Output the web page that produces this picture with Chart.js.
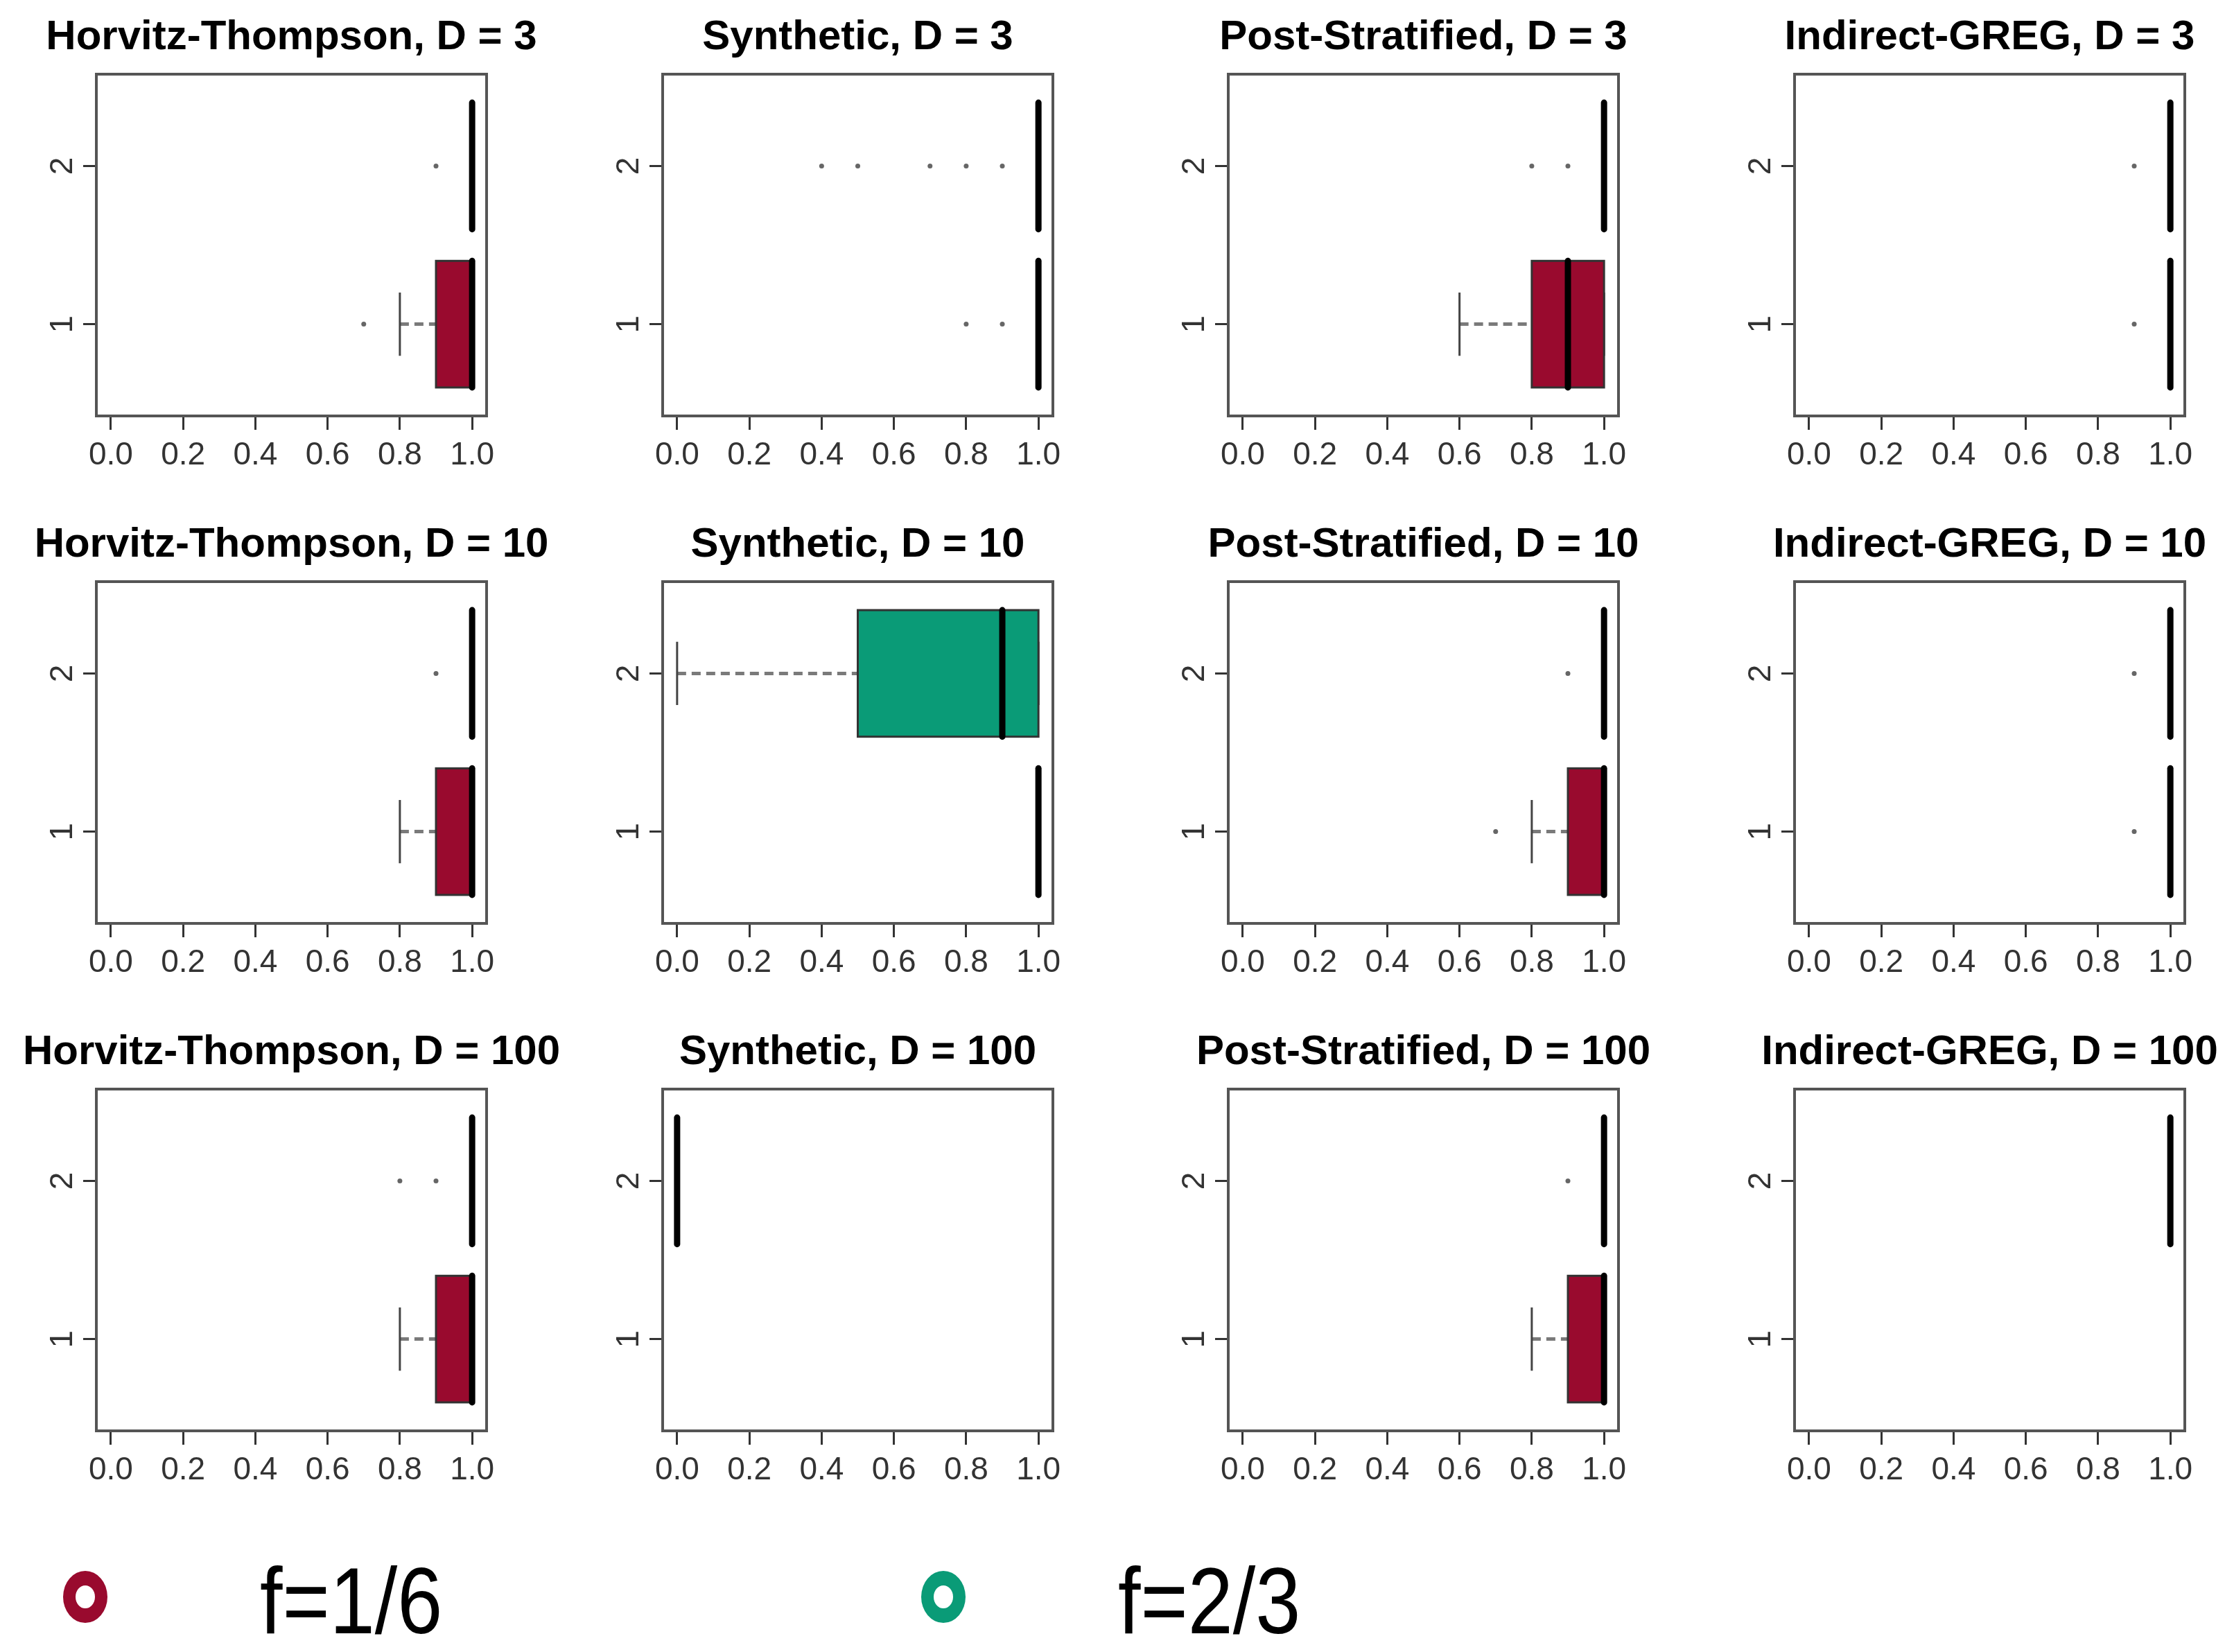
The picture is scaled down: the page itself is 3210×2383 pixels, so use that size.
<!DOCTYPE html>
<html>
<head>
<meta charset="utf-8">
<script src="https://cdn.jsdelivr.net/npm/chart.js@4.4.1/dist/chart.umd.min.js"></script>
<style>
  html, body { margin: 0; padding: 0; background: #fff; overflow: hidden; }
  #page { position: relative; width: 3210px; height: 2383px; overflow: hidden; background: #fff; }
  #page canvas { position: absolute; }
  .key { position: absolute; border-style: solid; border-radius: 50%; box-sizing: border-box; }
  .keytext { position: absolute; font-family: "Liberation Sans", Arial, sans-serif; font-size: 136px; line-height: 136px;
             transform: scaleX(0.86); transform-origin: left top; white-space: nowrap; color: #000; }
</style>
</head>
<body>
<div id="page"></div>
<script>
var estimators = ['Horvitz-Thompson', 'Synthetic', 'Post-Stratified', 'Indirect-GREG']
var domainSizes = [3, 10, 100]
var groups = [1, 2]
var groupColors = ['#990a2e', '#0a9b77']
var legendLabels = ['f=1/6', 'f=2/3']
var xTicks = [0, 0.2, 0.4, 0.6, 0.8, 1.0]
var xTickLabels = ['0.0', '0.2', '0.4', '0.6', '0.8', '1.0']

// [lower whisker, Q1, median, Q3, upper whisker] for group 1 and group 2 (null = nothing drawn)
var boxesD3 = [
  [[0.8, 0.9, 1.0, 1.0, 1.0], [1, 1, 1, 1, 1]],
  [[1, 1, 1, 1, 1], [1, 1, 1, 1, 1]],
  [[0.6, 0.8, 0.9, 1.0, 1.0], [1, 1, 1, 1, 1]],
  [[1, 1, 1, 1, 1], [1, 1, 1, 1, 1]]
]
var boxesD10 = [
  [[0.8, 0.9, 1.0, 1.0, 1.0], [1, 1, 1, 1, 1]],
  [[1, 1, 1, 1, 1], [0.0, 0.5, 0.9, 1.0, 1.0]],
  [[0.8, 0.9, 1.0, 1.0, 1.0], [1, 1, 1, 1, 1]],
  [[1, 1, 1, 1, 1], [1, 1, 1, 1, 1]]
]
var boxesD100 = [
  [[0.8, 0.9, 1.0, 1.0, 1.0], [1, 1, 1, 1, 1]],
  [null, [0, 0, 0, 0, 0]],
  [[0.8, 0.9, 1.0, 1.0, 1.0], [1, 1, 1, 1, 1]],
  [null, [1, 1, 1, 1, 1]]
]

// outliers for group 1 and group 2
var outD3 = [
  [[0.7], [0.9]],
  [[0.8, 0.9], [0.4, 0.5, 0.7, 0.8, 0.9]],
  [[], [0.8, 0.9]],
  [[0.9], [0.9]]
]
var outD10 = [
  [[], [0.9]],
  [[], []],
  [[0.7], [0.9]],
  [[0.9], [0.9]]
]
var outD100 = [
  [[], [0.8, 0.9]],
  [[], []],
  [[], [0.9]],
  [[], []]
]

var allBoxes = [boxesD3, boxesD10, boxesD100]
var allOut = [outD3, outD10, outD100]

var fontFamily = "'Liberation Sans', Arial, sans-serif"
Chart.defaults.font.family = fontFamily

// box, whiskers, staples and median for each group
var boxPlugin = {
  id: 'boxes',
  beforeDatasetsDraw: function (chart) {
    var stats = chart.options.plugins.boxes.stats
    var xs = chart.scales.x, ys = chart.scales.y, ctx = chart.ctx
    stats.forEach(function (s, i) {
      if (!s) return
      var yc = ys.getPixelForValue(groups[i])
      var h = Math.abs(ys.getPixelForValue(groups[i] + 0.4) - yc)
      var px = s.map(function (v) { return xs.getPixelForValue(v) })
      ctx.save()
      ctx.strokeStyle = '#7a7a7a'
      ctx.lineWidth = 5
      ctx.setLineDash([13, 8])
      ctx.beginPath()
      ctx.moveTo(px[0], yc); ctx.lineTo(px[1], yc)
      ctx.moveTo(px[3], yc); ctx.lineTo(px[4], yc)
      ctx.stroke()
      ctx.setLineDash([])
      ctx.strokeStyle = '#444'
      ctx.lineWidth = 3
      ctx.beginPath()
      ctx.moveTo(px[0], yc - h / 2); ctx.lineTo(px[0], yc + h / 2)
      ctx.moveTo(px[4], yc - h / 2); ctx.lineTo(px[4], yc + h / 2)
      ctx.stroke()
      ctx.fillStyle = groupColors[i]
      ctx.fillRect(px[1], yc - h, px[3] - px[1], 2 * h)
      ctx.strokeStyle = '#333'
      ctx.strokeRect(px[1], yc - h, px[3] - px[1], 2 * h)
      ctx.strokeStyle = '#000'
      ctx.lineWidth = 9
      ctx.lineCap = 'round'
      ctx.beginPath()
      ctx.moveTo(px[2], yc - h); ctx.lineTo(px[2], yc + h)
      ctx.stroke()
      ctx.restore()
    })
  }
}

// frame round the plot region and the panel title above it
var framePlugin = {
  id: 'frame',
  afterDraw: function (chart) {
    var a = chart.chartArea, ctx = chart.ctx
    ctx.save()
    ctx.strokeStyle = '#555'
    ctx.lineWidth = 4
    ctx.strokeRect(a.left, a.top, a.right - a.left, a.bottom - a.top)
    ctx.font = 'bold 60px ' + fontFamily
    ctx.fillStyle = '#000'
    ctx.textAlign = 'center'
    ctx.textBaseline = 'middle'
    ctx.fillText(chart.options.plugins.frame.title, (a.left + a.right) / 2, a.top - 53)
    ctx.restore()
  }
}

var page = document.getElementById('page')

allBoxes.forEach(function (rowBoxes, r) {
  rowBoxes.forEach(function (stats, c) {
    var canvas = document.createElement('canvas')
    canvas.width = 840
    canvas.height = 732
    canvas.style.left = Math.round(816.7 * c) + 'px'
    canvas.style.top = (732 * r) + 'px'
    page.appendChild(canvas)

    var points = []
    allOut[r][c].forEach(function (vals, g) {
      vals.forEach(function (v) { points.push({ x: v, y: groups[g] }) })
    })

    new Chart(canvas, {
      type: 'scatter',
      data: {
        datasets: [{
          data: points,
          pointRadius: 3.5,
          pointBackgroundColor: '#666',
          pointBorderWidth: 0
        }]
      },
      options: {
        responsive: false,
        animation: false,
        devicePixelRatio: 1,
        layout: { padding: { left: 0, right: 138, top: 107, bottom: 0 } },
        plugins: {
          legend: { display: false },
          tooltip: { enabled: false },
          title: { display: false },
          boxes: { stats: stats },
          frame: { title: estimators[c] + ', D = ' + domainSizes[r] }
        },
        scales: {
          x: {
            type: 'linear',
            position: 'bottom',
            min: -0.04,
            max: 1.04,
            afterBuildTicks: function (s) { s.ticks = xTicks.map(function (v) { return { value: v } }) },
            afterFit: function (s) { s.height = 132 },
            grid: { drawOnChartArea: false, drawTicks: true, tickLength: 20, color: '#333', lineWidth: 3 },
            border: { display: false },
            ticks: {
              autoSkip: false,
              maxRotation: 0,
              padding: 10,
              color: '#333',
              font: { size: 46 },
              callback: function (v, i) { return xTickLabels[i] }
            }
          },
          y: {
            type: 'linear',
            position: 'left',
            min: 0.42,
            max: 2.58,
            afterBuildTicks: function (s) { s.ticks = groups.map(function (v) { return { value: v } }) },
            afterFit: function (s) { s.width = 139 },
            grid: { drawOnChartArea: false, drawTicks: true, tickLength: 19, color: '#333', lineWidth: 3 },
            border: { display: false },
            ticks: {
              minRotation: 90,
              maxRotation: 90,
              crossAlign: 'center',
              padding: 16,
              color: '#333',
              font: { size: 46 },
              callback: function (v) { return String(v) }
            }
          }
        }
      },
      plugins: [boxPlugin, framePlugin]
    })
  })
})

// legend
var keyX = [123, 1361]
var textX = [375, 1613]
legendLabels.forEach(function (label, i) {
  var key = document.createElement('div')
  key.className = 'key'
  key.style.left = (keyX[i] - 32) + 'px'
  key.style.top = (2303 - 37) + 'px'
  key.style.width = '64px'
  key.style.height = '75px'
  key.style.borderWidth = '21px 18px'
  key.style.borderColor = groupColors[i]
  page.appendChild(key)
  var txt = document.createElement('div')
  txt.className = 'keytext'
  txt.style.left = textX[i] + 'px'
  txt.style.top = '2241px'
  txt.textContent = label
  page.appendChild(txt)
})
</script>
</body>
</html>
